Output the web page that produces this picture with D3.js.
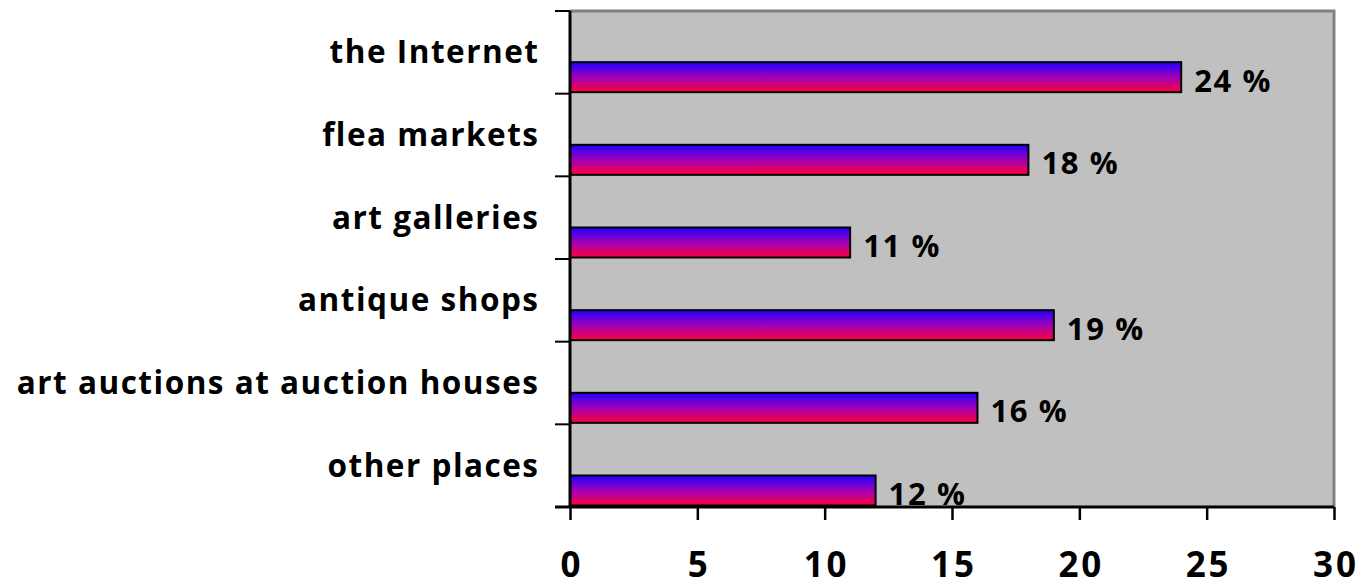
<!DOCTYPE html>
<html>
<head>
<meta charset="utf-8">
<script src="https://cdn.jsdelivr.net/npm/d3@7"></script>
<style>
  html, body { margin: 0; padding: 0; background: #ffffff; }
  svg { display: block; }
  text { font-family: "Open Sans", "DejaVu Sans", sans-serif; font-weight: bold; fill: #000; }
</style>
</head>
<body>
<svg id="chart" width="1364" height="588"></svg>
<script>
// Where people buy art: share of purchases by place
const categories = ["the Internet", "flea markets", "art galleries", "antique shops", "art auctions at auction houses", "other places"];
const shares = [24, 18, 11, 19, 16, 12];
const xTicks = [0, 5, 10, 15, 20, 25, 30];

const svg = d3.select("#chart");
const plot = { left: 570, right: 1334, top: 11, bottom: 507 };

const x = d3.scaleLinear().domain([0, 30]).range([plot.left, plot.right]);
const y = d3.scaleBand().domain(categories).range([plot.top, plot.bottom]).padding(0);

// bar fill: blue at the top fading to red at the bottom
const defs = svg.append("defs");
const grad = defs.append("linearGradient")
  .attr("id", "barGrad").attr("x1", 0).attr("y1", 0).attr("x2", 0).attr("y2", 1);
grad.append("stop").attr("offset", "0%").attr("stop-color", "#1e00ff");
grad.append("stop").attr("offset", "50%").attr("stop-color", "#a000b8");
grad.append("stop").attr("offset", "100%").attr("stop-color", "#ff0038");

// plot background
svg.append("rect")
  .attr("x", plot.left).attr("y", plot.top)
  .attr("width", plot.right - plot.left).attr("height", plot.bottom - plot.top)
  .attr("fill", "#c0c0c0");
// grey frame on top and right
svg.append("path")
  .attr("d", `M${plot.left},${plot.top}H${plot.right}V${plot.bottom}`)
  .attr("fill", "none").attr("stroke", "#808080").attr("stroke-width", 3);

// bars sit in the lower part of each band
const barH = 30;
const barOffset = 1.5;
svg.append("g").selectAll("rect")
  .data(categories)
  .join("rect")
  .attr("x", x(0))
  .attr("y", (d) => y(d) + y.bandwidth() - barOffset - barH)
  .attr("width", (d, i) => x(shares[i]) - x(0))
  .attr("height", barH)
  .attr("fill", "url(#barGrad)")
  .attr("stroke", "#000").attr("stroke-width", 2);

// value labels
svg.append("g").selectAll("text")
  .data(categories)
  .join("text")
  .attr("x", (d, i) => x(shares[i]) + 13)
  .attr("y", (d) => y(d) + y.bandwidth() - 2)
  .attr("font-size", 31)
  .attr("letter-spacing", 1.6)
  .text((d, i) => shares[i] + " %");

// category axis (left)
const yAxisG = svg.append("g");
yAxisG.append("line")
  .attr("x1", plot.left).attr("x2", plot.left)
  .attr("y1", plot.top).attr("y2", plot.bottom)
  .attr("stroke", "#000").attr("stroke-width", 3);
const bounds = categories.map((d) => y(d)).concat([plot.bottom]);
yAxisG.selectAll("line.tick")
  .data(bounds)
  .join("line").attr("class", "tick")
  .attr("x1", plot.left - 15).attr("x2", plot.left)
  .attr("y1", (d) => d).attr("y2", (d) => d)
  .attr("stroke", "#000").attr("stroke-width", 2);
const catSpacing = 1.5;
yAxisG.selectAll("text")
  .data(categories)
  .join("text")
  .attr("x", 538 + catSpacing)
  .attr("y", (d) => y(d) + y.bandwidth() / 2 + 11)
  .attr("text-anchor", "end")
  .attr("font-size", 31.5)
  .attr("letter-spacing", catSpacing)
  .text((d) => d);

// value axis (bottom)
const tickSpacing = 2.8;
const xAxis = d3.axisBottom(x).tickValues(xTicks).tickSize(13).tickPadding(36).tickFormat(d3.format("d"));
const xAxisG = svg.append("g")
  .attr("transform", `translate(0,${plot.bottom})`)
  .call(xAxis);
xAxisG.select(".domain")
  .attr("d", `M${plot.left - 15},0H${plot.right}`)
  .attr("stroke", "#000").attr("stroke-width", 3);
xAxisG.selectAll(".tick line").attr("stroke", "#000").attr("stroke-width", 2.5);
xAxisG.selectAll(".tick text")
  .attr("font-size", 35)
  .attr("font-family", "\"Open Sans\", sans-serif")
  .attr("font-weight", "bold")
  .attr("letter-spacing", tickSpacing)
  .attr("fill", "#000")
  .attr("dy", null)
  .attr("x", tickSpacing / 2)
  .attr("y", 70);
</script>
</body>
</html>
